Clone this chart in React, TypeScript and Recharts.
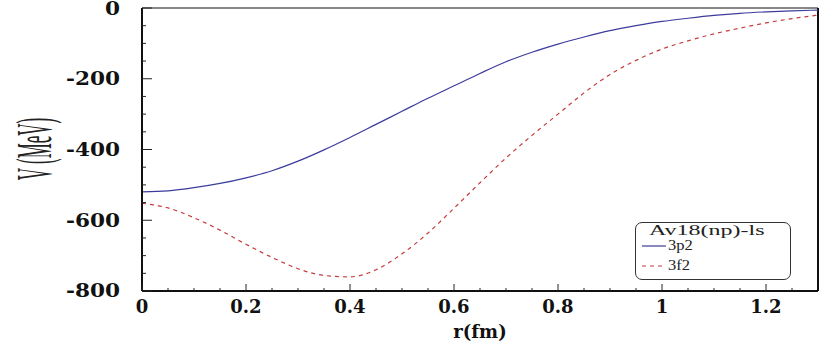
import React from "react"
import { LineChart, Line, XAxis, YAxis, Legend, ReferenceLine } from "recharts"

// r (fm)
const rValues = [0, 0.05, 0.1, 0.15, 0.2, 0.25, 0.3, 0.35, 0.4, 0.45, 0.5, 0.55, 0.6, 0.65, 0.7, 0.75, 0.8, 0.85, 0.9, 0.95, 1, 1.05, 1.1, 1.15, 1.2, 1.25, 1.3]
// V (MeV)
const v3p2 = [-520, -517, -508, -496, -480, -460, -433, -401, -366, -329, -292, -255, -220, -185, -152, -125, -102, -82, -64, -50, -38, -29, -21, -15, -11, -8, -6]
const v3f2 = [-552, -565, -593, -628, -668, -705, -737, -756, -760, -740, -695, -636, -566, -494, -424, -360, -300, -240, -188, -148, -116, -93, -73, -57, -42, -30, -20]

const xTicks = [0, 0.05, 0.1, 0.15, 0.2, 0.25, 0.3, 0.35, 0.4, 0.45, 0.5, 0.55, 0.6, 0.65, 0.7, 0.75, 0.8, 0.85, 0.9, 0.95, 1, 1.05, 1.1, 1.15, 1.2, 1.25]
const xMajor = [0, 0.2, 0.4, 0.6, 0.8, 1, 1.2]
const yTicks = [-800, -750, -700, -650, -600, -550, -500, -450, -400, -350, -300, -250, -200, -150, -100, -50, 0]
const yMajor = [-800, -600, -400, -200, 0]
const seriesOrder = ["3p2", "3f2"]

const data = rValues.map((r, i) => ({ r, p2: v3p2[i], f2: v3f2[i] }))

const tickFont = { fontFamily: "DejaVu Serif", fontWeight: 700, fontSize: 18, fill: "#111" }

function YTick({ x, y, payload }: any) {
  const v = payload.value
  const major = yMajor.includes(v)
  const ax = x + 22
  return (
    <g>
      <line x1={ax} x2={ax + (major ? 10 : 4)} y1={y} y2={y} stroke="#222" />
      {major && (
        <text
          transform={`translate(${x},${v === 0 ? y + 1 : y}) scale(1.2,1)`}
          textAnchor="end"
          dominantBaseline="central"
          {...tickFont}
        >
          {v}
        </text>
      )}
    </g>
  )
}

function XTick({ x, y, payload }: any) {
  const v = payload.value
  const major = xMajor.some((m) => Math.abs(m - v) < 1e-6)
  const ay = y - 8
  return (
    <g>
      <line x1={x} x2={x} y1={ay} y2={ay - (major ? 7 : 3)} stroke="#222" />
      {major && (
        <text x={x} y={y} textAnchor="middle" dominantBaseline="hanging" {...tickFont}>
          {v}
        </text>
      )}
    </g>
  )
}

function YLabel() {
  return (
    <text
      transform="translate(34,149) rotate(-90) scale(1,3)"
      textAnchor="middle"
      dominantBaseline="central"
      fontFamily="Liberation Serif"
      fontSize={17}
      fill="#222"
    >
      V (MeV)
    </text>
  )
}

function LegendBox({ payload }: any) {
  const items = [...(payload || [])].sort((a: any, b: any) => seriesOrder.indexOf(a.value) - seriesOrder.indexOf(b.value))
  return (
    <div
      style={{
        width: 156,
        height: 58,
        boxSizing: "border-box",
        border: "1.5px solid #333",
        borderRadius: 7,
        background: "#fff",
        fontFamily: "Liberation Serif",
        fontSize: 15,
        color: "#222",
        position: "relative",
      }}
    >
      <div style={{ position: "absolute", left: 13, top: -1, transform: "scaleX(1.6)", transformOrigin: "left", whiteSpace: "nowrap" }}>
        Av18(np)-ls
      </div>
      {items.map((p: any, i: number) => (
        <div key={p.value} style={{ position: "absolute", left: 6, top: 14 + i * 20, display: "flex", alignItems: "center", whiteSpace: "nowrap" }}>
          <svg width={24} height={6}>
            <line x1={0} x2={24} y1={3} y2={3} stroke={p.color} strokeWidth={1.2} strokeDasharray={p.payload?.strokeDasharray} />
          </svg>
          <span style={{ marginLeft: 2, display: "inline-block", transform: "scaleX(1.1)", transformOrigin: "left" }}>{p.value}</span>
        </div>
      ))}
    </div>
  )
}

export default function App() {
  return (
    <div style={{ position: "absolute", left: 0, top: 0, width: 830, height: 344, background: "#fff" }}>
      <LineChart width={830} height={344} data={data} margin={{ top: 8, right: 12, bottom: 0, left: 0 }}>
        <XAxis
          type="number"
          dataKey="r"
          domain={[0, 1.3]}
          ticks={xTicks}
          interval={0}
          tick={<XTick />}
          tickLine={false}
          tickSize={0}
          tickMargin={8}
          height={53}
          axisLine={{ stroke: "#111", strokeWidth: 2 }}
          label={{ value: "r(fm)", position: "insideBottom", offset: 6, style: { fontFamily: "DejaVu Serif", fontWeight: 700, fontSize: 18, fill: "#111" } }}
        />
        <YAxis
          type="number"
          domain={[-800, 0]}
          ticks={yTicks}
          interval={0}
          tick={<YTick />}
          tickLine={false}
          tickSize={0}
          tickMargin={22}
          width={142}
          axisLine={{ stroke: "#111", strokeWidth: 2 }}
          label={<YLabel />}
        />
        <ReferenceLine y={0} stroke="#111" strokeWidth={1} />
        <ReferenceLine x={1.3} stroke="#111" strokeWidth={2} />
        <Line type="monotone" dataKey="p2" name="3p2" stroke="#3c3c9c" strokeWidth={1.2} dot={false} isAnimationActive={false} />
        <Line type="monotone" dataKey="f2" name="3f2" stroke="#c43c3c" strokeWidth={1.2} strokeDasharray="4 4" dot={false} isAnimationActive={false} />
        <Legend
          layout="horizontal"
          verticalAlign="middle"
          align="center"
          content={<LegendBox />}
          wrapperStyle={{ position: "absolute", left: 635, top: 222, width: 156, height: 58, bottom: "auto", right: "auto" }}
        />
      </LineChart>
    </div>
  )
}
